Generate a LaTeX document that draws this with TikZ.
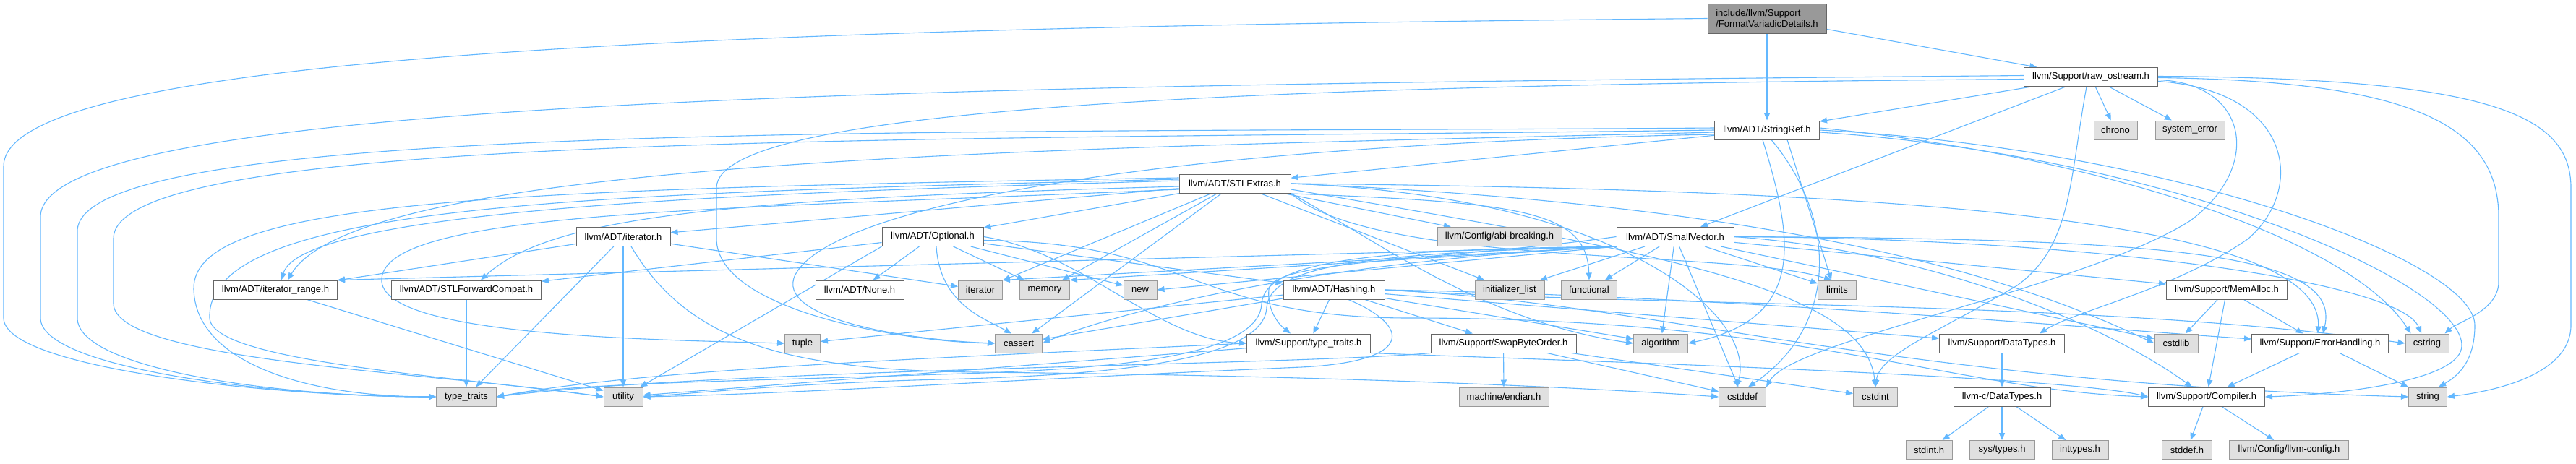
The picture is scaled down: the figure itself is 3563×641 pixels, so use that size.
\documentclass[tikz,border=0pt]{standalone}
\usepackage{fontspec}
\setmainfont{Liberation Sans}
\usetikzlibrary{arrows.meta}
\definecolor{edgeblue}{HTML}{63B8FF}
\definecolor{sysfill}{HTML}{E0E0E0}
\definecolor{sysline}{HTML}{999999}
\definecolor{hdrline}{HTML}{666666}
\definecolor{rootfill}{HTML}{999999}
\pgfdeclarelayer{edgelayer}
\pgfsetlayers{edgelayer,main}
\begin{document}
\begin{tikzpicture}[x=1pt, y=-1pt, font=\fontsize{13}{15}\selectfont, >={Triangle[length=10pt,width=8pt]}]
\tikzstyle{hdr}=[draw=hdrline, fill=white, line width=1pt, minimum height=26pt, inner sep=0pt]
\tikzstyle{sys}=[draw=sysline, fill=sysfill, line width=1pt, minimum height=26pt, inner sep=0pt]
\tikzstyle{root}=[draw=hdrline, fill=rootfill, line width=1pt, minimum width=164pt, minimum height=41pt, align=left, inner sep=0pt]
\tikzstyle{dep}=[draw=edgeblue, line width=1.1pt, ->]
\useasboundingbox (0,0) rectangle (3563,641);
\node[root] (fvd) at (2444,25.5) {include/llvm/Support\\/FormatVariadicDetails.h};
\node[hdr, minimum width=185pt] (rawos) at (2892,106.5) {llvm/Support/raw\_ostream.h};
\node[hdr, minimum width=145pt] (strref) at (2444,180) {llvm/ADT/StringRef.h};
\node[sys, minimum width=60pt] (chrono) at (2926,180) {chrono};
\node[sys, minimum width=96pt] (syserr) at (3029,180) {system\_error};
\node[hdr, minimum width=154pt] (stlext) at (1708,254) {llvm/ADT/STLExtras.h};
\node[hdr, minimum width=130pt] (itrh) at (862,327.5) {llvm/ADT/iterator.h};
\node[hdr, minimum width=140pt] (optional) at (1290,327.5) {llvm/ADT/Optional.h};
\node[sys, minimum width=172pt] (abibrk) at (2074,327.5) {llvm/Config/abi-breaking.h};
\node[hdr, minimum width=162pt] (smallvec) at (2317,327.5) {llvm/ADT/SmallVector.h};
\node[hdr, minimum width=171pt] (itrange) at (381,401) {llvm/ADT/iterator\_range.h};
\node[hdr, minimum width=207pt] (fwdcompat) at (645,401) {llvm/ADT/STLForwardCompat.h};
\node[hdr, minimum width=122pt] (noneh) at (1189,401) {llvm/ADT/None.h};
\node[sys, minimum width=61pt] (iterator) at (1356,401) {iterator};
\node[sys, minimum width=69pt] (memory) at (1445,401) {memory};
\node[sys, minimum width=46pt] (new) at (1577,401) {new};
\node[hdr, minimum width=140pt] (hashing) at (1845,401) {llvm/ADT/Hashing.h};
\node[sys, minimum width=96pt] (initlist) at (2088,401) {initializer\_list};
\node[sys, minimum width=77pt] (functional) at (2198,401) {functional};
\node[sys, minimum width=53pt] (limits) at (2541,401) {limits};
\node[hdr, minimum width=167pt] (memalloc) at (3080,401) {llvm/Support/MemAlloc.h};
\node[sys, minimum width=49pt] (tuple) at (1110,475) {tuple};
\node[sys, minimum width=65pt] (cassert) at (1409,475) {cassert};
\node[hdr, minimum width=171pt] (suptt) at (1810,475) {llvm/Support/type\_traits.h};
\node[hdr, minimum width=201pt] (swapbo) at (2079.5,475) {llvm/Support/SwapByteOrder.h};
\node[sys, minimum width=75pt] (algorithm) at (2297,475) {algorithm};
\node[hdr, minimum width=173pt] (datatypes) at (2769,475) {llvm/Support/DataTypes.h};
\node[sys, minimum width=60pt] (cstdlib) at (3010,475) {cstdlib};
\node[hdr, minimum width=189pt] (errhand) at (3209,475) {llvm/Support/ErrorHandling.h};
\node[sys, minimum width=60pt] (cstring) at (3357,475) {cstring};
\node[sys, minimum width=83pt] (typetraits) at (645,549) {type\_traits};
\node[sys, minimum width=54pt] (utility) at (862,549) {utility};
\node[sys, minimum width=124pt] (endian) at (2080,549) {machine/endian.h};
\node[sys, minimum width=65pt] (cstddef) at (2410,549) {cstddef};
\node[sys, minimum width=61pt] (cstdint) at (2594,549) {cstdint};
\node[hdr, minimum width=134pt] (cdatatypes) at (2769,549) {llvm-c/DataTypes.h};
\node[hdr, minimum width=161pt] (compiler) at (3052,549) {llvm/Support/Compiler.h};
\node[sys, minimum width=53pt] (string) at (3358,549) {string};
\node[sys, minimum width=64pt] (stdinth) at (2668,622.5) {stdint.h};
\node[sys, minimum width=90pt] (systypes) at (2769,622.5) {sys/types.h};
\node[sys, minimum width=78pt] (inttypes) at (2877,622.5) {inttypes.h};
\node[sys, minimum width=69pt] (stddefh) at (3025,622.5) {stddef.h};
\node[sys, minimum width=165pt] (llvmcfg) at (3166,622.5) {llvm/Config/llvm-config.h};
\begin{pgfonlayer}{edgelayer}
\fill[white] (0,0) rectangle (3563,641);
\draw[dep] (fvd) -- (rawos);
\draw[dep] (fvd) -- (strref);
\draw[dep] (fvd.west) .. controls (1000,38) and (5,75) .. (5,230) -- (5,440) .. controls (5,510) and (380,549) .. (typetraits.west);
\draw[dep] (rawos) -- (strref);
\draw[dep] (rawos) -- (chrono);
\draw[dep] (rawos) -- (syserr);
\draw[dep] (rawos) -- (smallvec);
\draw[dep] ([xshift=-6pt]rawos.south) .. controls (2862,250) and (2866,340) .. (2790,395) .. controls (2680,460) and (2600,490) .. (cstdint.north);
\draw[dep] ([yshift=-4pt]rawos.east) .. controls (3110,115) and (3130,230) .. (3030,305) .. controls (2880,400) and (2480,470) .. (cstddef.north east);
\draw[dep] ([yshift=-6pt]rawos.east) .. controls (3170,125) and (3190,260) .. (3110,330) .. controls (3010,400) and (2870,430) .. ([xshift=-35pt]datatypes.north east);
\draw[dep] ([yshift=-1pt]rawos.east) .. controls (3330,112) and (3456,170) .. (3456,300) -- (3456,390) .. controls (3456,430) and (3400,445) .. ([xshift=-6pt]cstring.north east);
\draw[dep] ([yshift=1pt]rawos.east) .. controls (3450,108) and (3556,160) .. (3556,260) -- (3556,450) .. controls (3556,515) and (3460,540) .. (string.east);
\draw[dep] ([yshift=-3pt]rawos.west) .. controls (1700,118) and (991,150) .. (991,260) -- (991,330) .. controls (991,430) and (1250,473) .. (cassert.west);
\draw[dep] ([yshift=2pt]rawos.west) .. controls (1300,118) and (56,135) .. (56,300) -- (56,440) .. controls (56,510) and (380,549) .. (typetraits.west);
\draw[dep] (strref) -- (stlext);
\draw[dep] ([yshift=3pt]strref.west) .. controls (1300,185) and (107,165) .. (107,320) -- (107,440) .. controls (107,510) and (380,549) .. (typetraits.west);
\draw[dep] (strref.west) .. controls (1300,195) and (157,180) .. (157,330) -- (157,420) .. controls (157,500) and (600,515) .. (utility.west);
\draw[dep] ([yshift=-3pt]strref.west) .. controls (1500,205) and (500,215) .. ([xshift=17pt]itrange.north);
\draw[dep] ([yshift=-6pt]strref.west) .. controls (1600,200) and (1150,285) .. (1100,380) .. controls (1070,440) and (1250,470) .. (cassert.west);
\draw[dep] ([xshift=28pt]strref.south) -- ([xshift=-8pt]limits.north);
\draw[dep] ([xshift=6pt]strref.south) .. controls (2540,300) and (2545,450) .. ([xshift=8pt]cstddef.north);
\draw[dep] ([xshift=-6pt]strref.south) .. controls (2480,330) and (2500,440) .. (algorithm.east);
\draw[dep] ([yshift=3pt]strref.east) .. controls (2900,215) and (3250,330) .. ([xshift=8pt]cstring.north west);
\draw[dep] (strref.east) .. controls (3000,205) and (3423,360) .. (3423,450) .. controls (3423,500) and (3400,520) .. ([xshift=-12pt]string.north east);
\draw[dep] ([yshift=-3pt]strref.east) .. controls (3000,215) and (3405,390) .. (3405,478) .. controls (3405,525) and (3250,545) .. (compiler.east);
\draw[dep] (stlext) -- (optional);
\draw[dep] (stlext) -- (abibrk);
\draw[dep] (stlext) -- (itrh);
\draw[dep] (stlext) -- (iterator);
\draw[dep] (stlext) -- (memory);
\draw[dep] (stlext) -- (cassert);
\draw[dep] (stlext) -- (initlist);
\draw[dep] (stlext.south east) .. controls (1900,370) and (2400,345) .. ([xshift=-8pt]limits.north);
\draw[dep] ([yshift=-4pt]stlext.west) .. controls (1000,275) and (760,300) .. ([xshift=20pt]fwdcompat.north);
\draw[dep] ([yshift=4pt]stlext.west) .. controls (1100,265) and (420,285) .. ([xshift=8pt]itrange.north);
\draw[dep] ([yshift=8pt]stlext.west) .. controls (700,262) and (265,275) .. (268,400) .. controls (270,500) and (420,549) .. (typetraits.west);
\draw[dep] ([yshift=6pt]stlext.west) .. controls (800,268) and (285,282) .. (290,440) .. controls (292,500) and (620,520) .. (utility.west);
\draw[dep] ([yshift=-8pt]stlext.west) .. controls (1000,290) and (520,290) .. (528,390) .. controls (536,465) and (900,470) .. (tuple.west);
\draw[dep] (stlext.south east) .. controls (1900,330) and (2050,445) .. (algorithm.west);
\draw[dep] ([xshift=-10pt]stlext.south east) .. controls (2100,280) and (2195,290) .. (functional.north);
\draw[dep] (stlext.east) .. controls (2250,272) and (2430,440) .. ([xshift=-8pt]cstddef.north);
\draw[dep] ([yshift=-8pt]stlext.east) .. controls (2300,350) and (2580,400) .. (cstdint.north);
\draw[dep] (stlext.east) .. controls (2500,285) and (2800,390) .. (cstdlib.west);
\draw[dep] (stlext.east) .. controls (2600,262) and (3215,300) .. ([xshift=-3pt]errhand.north);
\draw[dep] (itrh) -- (itrange);
\draw[dep] (itrh) -- (typetraits);
\draw[dep] (itrh) -- (utility);
\draw[dep] (itrh) -- (iterator);
\draw[dep] ([xshift=11pt]itrh.south) .. controls (950,470) and (1080,512) .. (1350,515) .. controls (1900,520) and (2250,540) .. (cstddef.west);
\draw[dep] (itrange) -- (utility);
\draw[dep] (fwdcompat) -- (typetraits);
\draw[dep] (optional) -- (hashing);
\draw[dep] (optional) -- (noneh);
\draw[dep] (optional) -- (fwdcompat);
\draw[dep] (optional) -- (memory);
\draw[dep] (optional) -- (new);
\draw[dep] (optional.south west) -- (utility);
\draw[dep] ([xshift=5pt]optional.south) .. controls (1300,420) and (1360,440) .. ([xshift=-10pt]cassert.north);
\draw[dep] (optional.east) .. controls (1500,350) and (1600,470) .. (suptt.west);
\draw[dep] ([yshift=-5pt]optional.east) .. controls (1650,335) and (1650,440) .. (1950,440) .. controls (2500,440) and (2700,540) .. (compiler.west);
\draw[dep] (hashing) -- (suptt);
\draw[dep] (hashing) -- (swapbo);
\draw[dep] (hashing) -- (algorithm);
\draw[dep] (hashing) -- (cassert);
\draw[dep] (hashing) -- (tuple);
\draw[dep] (hashing) -- (datatypes);
\draw[dep] ([xshift=20pt]hashing.south) .. controls (1950,450) and (1960,500) .. (1800,508) .. controls (1400,525) and (1100,545) .. (utility.east);
\draw[dep] (hashing.east) .. controls (2400,410) and (2900,455) .. ([yshift=6pt]errhand.west);
\draw[dep] (hashing.east) .. controls (2300,425) and (2900,415) .. (cstring.west);
\draw[dep] (hashing.east) .. controls (2300,420) and (2600,528) .. (string.west);
\draw[dep] (suptt.south east) .. controls (2200,500) and (2850,520) .. (compiler.west);
\draw[dep] (suptt.west) .. controls (1300,495) and (900,510) .. (typetraits.east);
\draw[dep] (suptt) -- (utility);
\draw[dep] (swapbo) -- (endian);
\draw[dep] (swapbo) -- (cstddef);
\draw[dep] (swapbo) -- (cstdint);
\draw[dep] (swapbo.south west) .. controls (1800,505) and (1000,510) .. (typetraits.east);
\draw[dep] (smallvec) -- (initlist);
\draw[dep] (smallvec) -- (functional);
\draw[dep] (smallvec) -- (algorithm);
\draw[dep] (smallvec) -- (cstddef);
\draw[dep] (smallvec) -- (limits);
\draw[dep] (smallvec) -- (memalloc);
\draw[dep] (smallvec) -- (cstdlib);
\draw[dep] (smallvec.east) .. controls (3000,330) and (3240,350) .. ([xshift=4pt]errhand.north);
\draw[dep] (smallvec.east) .. controls (2900,330) and (3320,390) .. ([xshift=-8pt]cstring.north);
\draw[dep] (smallvec.east) .. controls (2650,345) and (2900,440) .. ([xshift=-20pt]compiler.north);
\draw[dep] (smallvec.west) .. controls (2000,360) and (1760,360) .. (1755,400) .. controls (1752,430) and (1770,450) .. ([xshift=-25pt]suptt.north);
\draw[dep] (smallvec.south west) -- (itrange.north east);
\draw[dep] (smallvec.south west) -- (iterator.north east);
\draw[dep] (smallvec.south west) -- (memory.north east);
\draw[dep] (smallvec.south west) -- (new.east);
\draw[dep] (smallvec.south west) .. controls (1750,365) and (1500,450) .. (cassert.east);
\draw[dep] (smallvec.south west) .. controls (1900,345) and (1750,360) .. (1745,420) .. controls (1742,500) and (1500,512) .. (1300,518) .. controls (1000,528) and (800,530) .. (typetraits.east);
\draw[dep] (smallvec.south west) .. controls (1900,350) and (1758,365) .. (1752,425) .. controls (1749,505) and (1500,520) .. (1300,525) .. controls (1100,530) and (950,545) .. (utility.east);
\draw[dep] (memalloc) -- (cstdlib);
\draw[dep] (memalloc) -- (errhand);
\draw[dep] (memalloc) -- (compiler);
\draw[dep] (errhand) -- (compiler);
\draw[dep] (errhand) -- (string);
\draw[dep] (datatypes) -- (cdatatypes);
\draw[dep] (cdatatypes) -- (stdinth);
\draw[dep] (cdatatypes) -- (systypes);
\draw[dep] (cdatatypes) -- (inttypes);
\draw[dep] (compiler) -- (stddefh);
\draw[dep] (compiler) -- (llvmcfg);
\end{pgfonlayer}
\end{tikzpicture}
\end{document}
